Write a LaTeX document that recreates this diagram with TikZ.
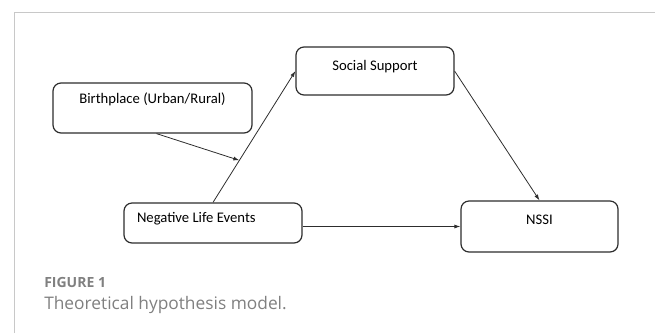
\documentclass[tikz,border=0pt]{standalone}
\usepackage{fontspec}
\setmainfont{Carlito}
\newfontfamily\captionfont{Open Sans}
\usetikzlibrary{arrows.meta,calc}
\definecolor{boxline}{RGB}{45,45,45}
\definecolor{framegray}{RGB}{200,200,200}
\definecolor{captiongray}{RGB}{128,128,128}

\begin{document}
\begin{tikzpicture}[x=0.75pt, y=-0.75pt,
  box/.style={draw=boxline, line width=0.9pt, rounded corners=6pt, inner sep=0pt,
    font=\fontsize{11}{13}\selectfont, text height=7pt},
  link/.style={draw=boxline, line width=0.6pt, -{Latex[length=4.5pt,width=3pt]}},
  caption/.style={anchor=base west, inner sep=0pt, text=captiongray}]
  \useasboundingbox (0,0) rectangle (655,333);

  % Frame (top and left rule)
  \draw[framegray, line width=0.75pt] (14,333) -- (14,12) -- (655,12);

  % Boxes: px positions, sizes in pt (1px = 0.75pt)
  \node[box, minimum width=149.25pt, minimum height=37.5pt, text depth=14pt]
    (birth) at (152.5,108) {Birthplace (Urban/Rural)};
  \node[box, minimum width=118.5pt, minimum height=36pt, text depth=8pt]
    (social) at (375,71) {Social Support};
  \node[box, minimum width=133.5pt, minimum height=30pt, text depth=7.5pt]
    (neg) at (213,223) {\makebox[114pt][l]{Negative Life Events}};
  \node[box, minimum width=117.75pt, minimum height=38.25pt, text depth=10.3pt]
    (nssi) at (539.5,226.5) {NSSI};

  % Paths
  \draw[link] (neg.north) -- (social.west);
  \coordinate (moderate) at ($(neg.north)!0.32!(social.west)$);
  \draw[link] ([xshift=3pt]birth.south) -- (moderate);
  \draw[link] (social.east) -- (nssi.north);
  \draw[link] (neg.east |- nssi.west) -- (nssi.west);

  % Caption
  \node[caption, font=\captionfont\bfseries\fontsize{10.5}{12}\selectfont] (figlabel) at (44,287) {FIGURE 1};
  \node[caption, font=\captionfont\fontsize{13}{15}\selectfont] (figtitle) at (44,309) {Theoretical hypothesis model.};

\end{tikzpicture}
\end{document}
